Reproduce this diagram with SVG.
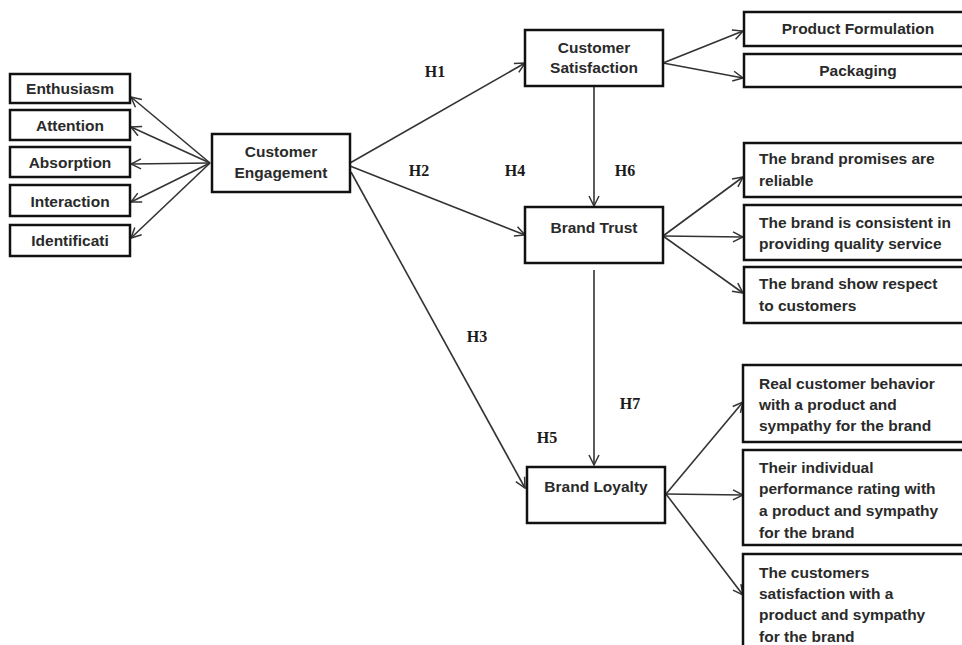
<svg xmlns="http://www.w3.org/2000/svg" width="962" height="645" viewBox="0 0 962 645">
<defs>
<marker id="ah" viewBox="0 0 12 12" refX="11" refY="6" markerWidth="12" markerHeight="12" markerUnits="userSpaceOnUse" orient="auto">
<path d="M1,1 L11,6 L1,11" fill="none" stroke="#333" stroke-width="1.5"/>
</marker>
<style>
.box{fill:#fff;stroke:#111;stroke-width:2.5}
.t{font-family:"Liberation Sans",Arial,sans-serif;font-weight:bold;font-size:15.5px;fill:#2a2a2a}
.c{text-anchor:middle}
.h{font-family:"Liberation Serif","Times New Roman",serif;font-weight:bold;font-size:16px;fill:#1a1a1a;text-anchor:middle}
.ln{stroke:#333;stroke-width:1.6;fill:none;marker-end:url(#ah)}
</style>
</defs>
<rect width="962" height="645" fill="#fff"/>
<g id="connectors">
<line class="ln" x1="210" y1="163" x2="131" y2="97"/>
<line class="ln" x1="210" y1="163" x2="131" y2="127"/>
<line class="ln" x1="210" y1="163" x2="131" y2="164"/>
<line class="ln" x1="210" y1="163" x2="131" y2="202"/>
<line class="ln" x1="210" y1="163" x2="131" y2="238"/>
<line class="ln" x1="350" y1="163" x2="525" y2="63"/>
<line class="ln" x1="350" y1="166" x2="525" y2="235"/>
<line class="ln" x1="351" y1="172" x2="525" y2="488"/>
<line class="ln" x1="594" y1="86" x2="594" y2="206"/>
<line class="ln" x1="594" y1="270" x2="594" y2="465"/>
<line class="ln" x1="663" y1="63" x2="743" y2="31"/>
<line class="ln" x1="663" y1="63" x2="743" y2="78"/>
<line class="ln" x1="663" y1="236" x2="743" y2="177"/>
<line class="ln" x1="663" y1="236" x2="743" y2="237"/>
<line class="ln" x1="663" y1="236" x2="743" y2="293"/>
<line class="ln" x1="666" y1="494" x2="743" y2="402"/>
<line class="ln" x1="666" y1="494" x2="743" y2="495"/>
<line class="ln" x1="666" y1="494" x2="743" y2="595"/>
</g>
<g id="labels">
<text class="h" x="435" y="77">H1</text>
<text class="h" x="419" y="176">H2</text>
<text class="h" x="515" y="176">H4</text>
<text class="h" x="625" y="176">H6</text>
<text class="h" x="477" y="342">H3</text>
<text class="h" x="630" y="409">H7</text>
<text class="h" x="547" y="443">H5</text>
</g>
<g id="enthusiasm"><rect class="box" x="10" y="74" width="120" height="29"/><text class="t c" x="70" y="94">Enthusiasm</text></g>
<g id="attention"><rect class="box" x="10" y="110" width="120" height="30"/><text class="t c" x="70" y="131">Attention</text></g>
<g id="absorption"><rect class="box" x="10" y="147" width="120" height="30"/><text class="t c" x="70" y="168">Absorption</text></g>
<g id="interaction"><rect class="box" x="10" y="185" width="120" height="31"/><text class="t c" x="70" y="207">Interaction</text></g>
<g id="identification"><rect class="box" x="10" y="225" width="120" height="31"/><text class="t c" x="70" y="246">Identificati</text></g>
<g id="customer-engagement"><rect class="box" x="212" y="134" width="138" height="58"/><text class="t c" x="281" y="157">Customer</text><text class="t c" x="281" y="178">Engagement</text></g>
<g id="customer-satisfaction"><rect class="box" x="525" y="30" width="138" height="56"/><text class="t c" x="594" y="53">Customer</text><text class="t c" x="594" y="73">Satisfaction</text></g>
<g id="brand-trust"><rect class="box" x="525" y="207" width="138" height="56"/><text class="t c" x="594" y="233">Brand Trust</text></g>
<g id="brand-loyalty"><rect class="box" x="527" y="467" width="138" height="56"/><text class="t c" x="596" y="492">Brand Loyalty</text></g>
<g id="product-formulation"><rect class="box" x="744" y="12" width="240" height="34"/><text class="t c" x="858" y="34">Product  Formulation</text></g>
<g id="packaging"><rect class="box" x="744" y="54" width="240" height="33"/><text class="t c" x="858" y="76">Packaging</text></g>
<g id="promises"><rect class="box" x="744" y="143" width="240" height="54"/><text class="t" x="759" y="164">The brand promises are</text><text class="t" x="759" y="186">reliable</text></g>
<g id="consistent"><rect class="box" x="744" y="205" width="240" height="55"/><text class="t" x="759" y="228">The brand is consistent in</text><text class="t" x="759" y="249">providing quality service</text></g>
<g id="respect"><rect class="box" x="744" y="267" width="240" height="56"/><text class="t" x="759" y="289">The brand show respect</text><text class="t" x="759" y="311">to customers</text></g>
<g id="real-behavior"><rect class="box" x="743" y="365" width="240" height="77"/><text class="t" x="759" y="389">Real customer behavior</text><text class="t" x="759" y="410">with a product  and</text><text class="t" x="759" y="431">sympathy for the brand</text></g>
<g id="performance-rating"><rect class="box" x="743" y="450" width="240" height="95"/><text class="t" x="759" y="473">Their individual</text><text class="t" x="759" y="494">performance rating  with</text><text class="t" x="759" y="516">a product  and sympathy</text><text class="t" x="759" y="538">for the brand</text></g>
<g id="customers-satisfaction"><rect class="box" x="743" y="554" width="240" height="110"/><text class="t" x="759" y="578">The customers</text><text class="t" x="759" y="599">satisfaction  with a</text><text class="t" x="759" y="620">product  and sympathy</text><text class="t" x="759" y="642">for the brand</text></g>
</svg>
